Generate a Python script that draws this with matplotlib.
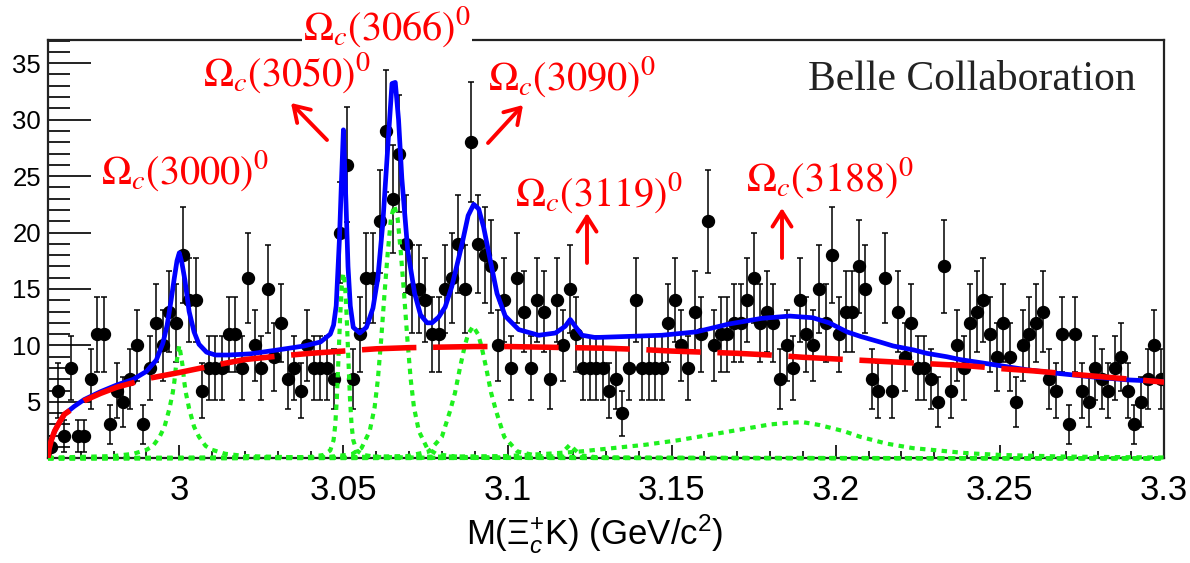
import matplotlib
matplotlib.use("Agg")
import matplotlib.pyplot as plt
import numpy as np
from matplotlib.ticker import MultipleLocator, FixedLocator, FixedFormatter

# ---------------- data ----------------
mass_lo, mass_hi, n_bins = 2.96, 3.30, 170
counts = [
    1, 6, 2, 8, 2, 2, 7, 11, 11, 3,
    6, 5, 7, 10, 3, 8, 12, 10, 13, 12,
    18, 14, 14, 6, 8, 8, 8, 11, 11, 8,
    16, 10, 8, 15, 9, 12, 7, 8, 6, 10,
    8, 8, 8, 7, 20, 26, 7, 11, 16, 16,
    21, 29, 23, 27, 19, 15, 15, 14, 11, 11,
    15, 16, 19, 15, 28, 19, 18, 17, 10, 14,
    8, 16, 13, 8, 14, 13, 7, 14, 10, 15,
    11, 8, 8, 8, 8, 6, 7, 4, 8, 14,
    8, 8, 8, 8, 12, 14, 10, 8, 13, 11,
    21, 10, 11, 11, 12, 12, 14, 16, 12, 13,
    12, 7, 10, 8, 14, 11, 10, 15, 12, 18,
    11, 13, 13, 17, 15, 7, 6, 16, 6, 13,
    9, 12, 8, 8, 7, 5, 17, 6, 10, 8,
    12, 13, 14, 11, 9, 12, 9, 5, 10, 11,
    12, 13, 7, 6, 11, 3, 11, 6, 5, 8,
    7, 6, 8, 9, 6, 3, 5, 7, 10, 7,
]

# background (red dashed)
bkg_x = [2.9600, 2.9603, 2.9610, 2.9620, 2.9635, 2.9650, 2.9680, 2.9710, 2.9760, 2.9810,
         2.9860, 2.9910, 3.0000, 3.0100, 3.0200, 3.0300, 3.0400, 3.0500, 3.0600, 3.0700,
         3.0800, 3.0900, 3.1000, 3.1100, 3.1200, 3.1300, 3.1400, 3.1500, 3.1600, 3.1700,
         3.1800, 3.1900, 3.2000, 3.2100, 3.2200, 3.2300, 3.2400, 3.2500, 3.2600, 3.2700,
         3.2800, 3.2900, 3.3000]
bkg_y = [0.0, 0.8, 1.6, 2.4, 3.2, 3.9, 4.5, 5.1, 5.75, 6.3,
         6.7, 7.1, 7.6, 8.2, 8.75, 9.05, 9.3, 9.5, 9.7, 9.8,
         9.85, 9.9, 9.9, 9.85, 9.8, 9.75, 9.65, 9.5, 9.4, 9.3,
         9.15, 8.95, 8.8, 8.65, 8.5, 8.35, 8.2, 7.95, 7.75, 7.5,
         7.25, 7.0, 6.75]

# total fit (blue)
tot_x = [2.9600, 2.9603, 2.9610, 2.9620, 2.9635, 2.9650, 2.9680, 2.9710, 2.9760, 2.9810,
         2.9860, 2.9900, 2.9930, 2.9950, 2.9963, 2.9975, 2.9985, 2.9993, 3.0000, 3.0008,
         3.0017, 3.0030, 3.0045, 3.0060, 3.0083, 3.0110, 3.0150, 3.0215, 3.0300, 3.0380,
         3.0430, 3.0460, 3.0470, 3.0478, 3.0488, 3.0494, 3.0500, 3.0508, 3.0514, 3.0521,
         3.0530, 3.0550, 3.0570, 3.0590, 3.0605, 3.0620, 3.0635, 3.0648, 3.0658, 3.0668,
         3.0678, 3.0696, 3.0717, 3.0735, 3.0755, 3.0770, 3.0790, 3.0810, 3.0830, 3.0860,
         3.0880, 3.0897, 3.0912, 3.0927, 3.0947, 3.0968, 3.0993, 3.1034, 3.1095, 3.1146,
         3.1176, 3.1191, 3.1206, 3.1227, 3.1267, 3.1370, 3.1470, 3.1575, 3.1675, 3.1775,
         3.1860, 3.1930, 3.1980, 3.2034, 3.2075, 3.2135, 3.2175, 3.2237, 3.2277, 3.2338,
         3.2378, 3.2480, 3.2581, 3.2683, 3.2785, 3.2887, 3.3000]
tot_y = [0.0, 0.8, 1.6, 2.4, 3.2, 3.9, 4.6, 5.2, 5.9, 6.5,
         7.0, 7.7, 8.7, 10.2, 11.8, 14.0, 16.0, 17.5, 18.2, 17.3,
         15.8, 13.0, 11.2, 10.1, 9.4, 9.15, 9.15, 9.25, 9.6, 9.95,
         10.3, 11.0, 11.8, 13.5, 19.5, 24.5, 29.1, 22.5, 17.0, 13.5,
         11.6, 11.1, 11.6, 13.3, 16.0, 20.8, 27.5, 33.2, 33.3, 30.0,
         24.8, 18.4, 14.6, 12.7, 12.0, 12.0, 12.5, 13.4, 15.2, 18.8,
         21.5, 22.5, 22.1, 20.5, 17.6, 14.6, 12.6, 11.4, 10.9, 11.1,
         11.7, 12.3, 11.7, 10.9, 10.7, 10.8, 10.9, 11.2, 11.9, 12.4,
         12.6, 12.45, 12.0, 11.2, 10.8, 10.3, 9.95, 9.6, 9.3, 9.0,
         8.75, 8.3, 7.85, 7.5, 7.2, 6.95, 6.8]

# signal components (green dotted)
sig3000_x = [2.960, 2.980, 2.986, 2.990, 2.992, 2.994, 2.9955, 2.997, 2.998, 2.9985, 2.999,
             3.000, 3.001, 3.0015, 3.002, 3.003, 3.0045, 3.006, 3.008, 3.010, 3.014, 3.020,
             3.040, 3.300]
sig3000_y = [0.05, 0.2, 0.4, 0.75, 1.1, 1.9, 2.8, 4.4, 5.8, 6.8, 8.2,
             10.0, 8.2, 6.8, 5.8, 4.4, 2.8, 1.9, 1.1, 0.75, 0.4, 0.2,
             0.05, 0.0]
sig3050_x = [2.960, 3.020, 3.040, 3.044, 3.046, 3.047, 3.0475, 3.048, 3.0485, 3.049, 3.0495,
             3.050, 3.0505, 3.051, 3.0515, 3.052, 3.0525, 3.053, 3.054, 3.056, 3.060, 3.080,
             3.300]
sig3050_y = [0.0, 0.03, 0.12, 0.3, 0.7, 1.6, 2.9, 5.3, 8.9, 12.5, 15.3,
             16.4, 15.3, 12.5, 8.9, 5.3, 2.9, 1.6, 0.7, 0.3, 0.12, 0.03,
             0.0]
sig3066_x = [2.960, 3.020, 3.0455, 3.0525, 3.0555, 3.058, 3.0595, 3.0605, 3.0615, 3.0625,
             3.0635, 3.0645, 3.0655, 3.0665, 3.0675, 3.0685, 3.0695, 3.0705, 3.0715, 3.073,
             3.0755, 3.0785, 3.0855, 3.1105, 3.300]
sig3066_y = [0.0, 0.03, 0.12, 0.35, 0.9, 2.4, 4.5, 7.0, 10.5, 14.5,
             18.2, 21.3, 22.4, 21.3, 18.2, 14.5, 10.5, 7.0, 4.5, 2.4,
             0.9, 0.35, 0.12, 0.03, 0.0]
sig3090_x = [2.960, 3.040, 3.0695, 3.076, 3.080, 3.0825, 3.084, 3.0855, 3.087, 3.088,
             3.0895, 3.091, 3.092, 3.0935, 3.095, 3.0965, 3.099, 3.103, 3.1095, 3.1295,
             3.300]
sig3090_y = [0.0, 0.04, 0.2, 0.6, 1.9, 4.2, 5.8, 8.0, 10.0, 11.0,
             11.7, 11.0, 10.0, 8.0, 5.8, 4.2, 1.9, 0.6, 0.2, 0.05,
             0.0]
sig3119_x = [2.960, 3.080, 3.105, 3.111, 3.1155, 3.1175, 3.119, 3.1205, 3.1225, 3.127,
             3.135, 3.160, 3.300]
sig3119_y = [0.0, 0.02, 0.05, 0.1, 0.25, 0.75, 1.2, 0.75, 0.25, 0.1,
             0.05, 0.02, 0.0]
sig3188_x = [2.960, 3.050, 3.080, 3.100, 3.112, 3.122, 3.132, 3.142, 3.152, 3.162,
             3.172, 3.180, 3.186, 3.190, 3.195, 3.2025, 3.2075, 3.2155, 3.2235, 3.231,
             3.240, 3.250, 3.270, 3.300]
sig3188_y = [0.03, 0.1, 0.15, 0.2, 0.4, 0.6, 0.9, 1.2, 1.6, 2.1,
             2.6, 3.0, 3.15, 3.2, 2.95, 2.4, 1.9, 1.3, 0.9, 0.7,
             0.45, 0.3, 0.15, 0.07]

state_labels = [r"$\Omega_c(3000)^0$", r"$\Omega_c(3050)^0$", r"$\Omega_c(3066)^0$",
                r"$\Omega_c(3090)^0$", r"$\Omega_c(3119)^0$", r"$\Omega_c(3188)^0$"]
xtick_vals = [3.0, 3.05, 3.10, 3.15, 3.20, 3.25, 3.30]
xtick_labels = ["3", "3.05", "3.1", "3.15", "3.2", "3.25", "3.3"]
ytick_vals = [5, 10, 15, 20, 25, 30, 35]
ytick_labels = ["5", "10", "15", "20", "25", "30", "35"]

# ---------------- style ----------------
plt.rcParams["font.family"] = ["Liberation Sans", "DejaVu Sans"]
plt.rcParams["mathtext.fontset"] = "custom"
plt.rcParams["mathtext.rm"] = "Liberation Sans"
plt.rcParams["mathtext.it"] = "Liberation Sans:italic"
plt.rcParams["mathtext.bf"] = "Liberation Sans:bold"

W, H = 1190, 563
fig = plt.figure(figsize=(W / 100, H / 100), dpi=100)
ax_l, ax_r, ax_t, ax_b = 48, 1164, 39.5, 458.3
ax = fig.add_axes([ax_l / W, 1 - ax_b / H, (ax_r - ax_l) / W, (ax_b - ax_t) / H])

edges = np.linspace(mass_lo, mass_hi, n_bins + 1)
centres = 0.5 * (edges[:-1] + edges[1:])
cnt = np.array(counts, dtype=float)

ax.errorbar(centres, cnt, yerr=np.sqrt(cnt), fmt="o", color="black", ms=8.6,
            elinewidth=1.1, capsize=2.2, capthick=1.1, zorder=2)

ax.plot(tot_x, tot_y, color="#0000ff", lw=3.4, zorder=3, solid_capstyle="butt")

green = "#1ef01e"
for gx, gy in [(sig3000_x, sig3000_y), (sig3050_x, sig3050_y), (sig3066_x, sig3066_y),
               (sig3090_x, sig3090_y), (sig3119_x, sig3119_y), (sig3188_x, sig3188_y)]:
    ax.plot(gx, gy, color=green, lw=3.0, dashes=(1.3, 1.3), zorder=4, clip_on=False,
            dash_capstyle="butt")

ax.plot(bkg_x, bkg_y, color="#ff0000", lw=4.0, dashes=(9.8, 3.0), zorder=5,
        dash_capstyle="butt")

ax.set_xlim(mass_lo, mass_hi)
ax.set_ylim(0, 37.1)

ax.xaxis.set_major_locator(FixedLocator(xtick_vals))
ax.xaxis.set_major_formatter(FixedFormatter(xtick_labels))
ax.xaxis.set_minor_locator(MultipleLocator(0.01))
ax.yaxis.set_major_locator(FixedLocator(ytick_vals))
ax.yaxis.set_major_formatter(FixedFormatter(ytick_labels))
ax.yaxis.set_minor_locator(MultipleLocator(1))

ax.tick_params(axis="both", which="both", direction="in", top=False, right=False,
               color="#111111", width=1.3)
ax.tick_params(axis="y", which="major", length=31, pad=5, labelsize=18.5)
ax.tick_params(axis="y", which="minor", length=16)
ax.tick_params(axis="x", which="major", length=9.5, pad=11, labelsize=25)
ax.tick_params(axis="x", which="minor", length=5)
for s in ax.spines.values():
    s.set_linewidth(1.6)
    s.set_color("#222222")

# axis title
fig.text(595 / W, 1 - 534 / H, r"M($\Xi_c^{+}$K) (GeV/c$^{2}$)", ha="center",
         va="center", fontsize=25)

# experiment label
fig.text(808 / W, 1 - 90 / H, "Belle Collaboration", family="Liberation Serif",
         fontsize=30, color="#222222", ha="left", va="baseline")

# state labels (pixel centres)
label_pos = [(185, 171), (287, 73), (387, 27), (572, 77), (599, 193), (830, 178)]
for k, (lab, (px, py)) in enumerate(zip(state_labels, label_pos)):
    kw = {}
    if k == 2:
        kw["bbox"] = dict(facecolor="white", edgecolor="none", pad=1)
    fig.text(px / W, 1 - py / H, lab, ha="center", va="center", fontsize=29,
             color="#ff0000", math_fontfamily="stix", zorder=10, **kw)

# arrows (tail -> head, pixel coords from top)
arrows = [((327, 140), (291, 103)), ((488, 143), (523, 105)),
          ((587, 263), (587, 213)), ((782, 258), (782, 208))]
for (tx, ty), (hx, hy) in arrows:
    ax.annotate("", xy=(hx, H - hy), xytext=(tx, H - ty), xycoords="figure pixels",
                textcoords="figure pixels",
                arrowprops=dict(arrowstyle="->,head_length=0.6,head_width=0.38",
                                color="#ff0000", lw=2.8, mutation_scale=18,
                                shrinkA=0, shrinkB=0), zorder=10)

fig.savefig("out.png", dpi=100)
